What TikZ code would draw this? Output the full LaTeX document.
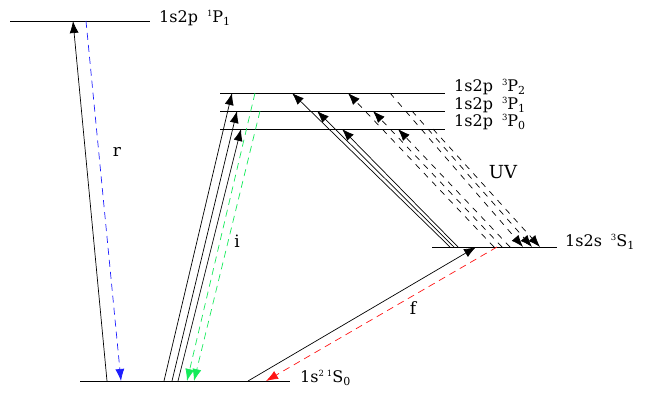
\documentclass[tikz,border=0pt]{standalone}
\usepackage{fontspec}
\setmainfont{DejaVu Serif}
\usetikzlibrary{arrows.meta}
\definecolor{uvgreen}{RGB}{20,235,90}
\definecolor{rblue}{RGB}{30,30,255}
\definecolor{fred}{RGB}{255,20,20}
\newcommand\upi[1]{\raisebox{6pt}{\fontsize{8.5}{8.5}\selectfont #1}}
\newcommand\dni[1]{\raisebox{-3pt}{\fontsize{11}{11}\selectfont #1}}
\begin{document}
\begin{tikzpicture}[x=1pt,y=-1pt,
  lvl/.style={line width=0.8pt},
  tr/.style={line width=0.7pt,-{Latex[length=12pt,width=9pt]}},
  dsh/.style={dash pattern=on 7pt off 5pt},
  uvd/.style={dash pattern=on 6pt off 6pt},
  lbl/.style={anchor=base west,font=\fontsize{16}{16}\selectfont,inner sep=0pt},
  tag/.style={font=\fontsize{17}{17}\selectfont,inner sep=0pt}]
\useasboundingbox (0,0) rectangle (645,393);

% level end points
\coordinate (P1a) at (10,21);   \coordinate (P1b) at (150,21);
\coordinate (P2a) at (220,93);  \coordinate (P2b) at (445,93);
\coordinate (Q1a) at (220,111); \coordinate (Q1b) at (445,111);
\coordinate (P0a) at (220,129); \coordinate (P0b) at (445,129);
\coordinate (S1a) at (432,247); \coordinate (S1b) at (557,247);
\coordinate (S0a) at (80,381);  \coordinate (S0b) at (290,381);

\draw[lvl] (P1a) -- (P1b);
\draw[lvl] (P2a) -- (P2b);
\draw[lvl] (Q1a) -- (Q1b);
\draw[lvl] (P0a) -- (P0b);
\draw[lvl] (S1a) -- (S1b);
\draw[lvl] (S0a) -- (S0b);

% level labels
\node[lbl] (tP1) at (159,23)  {1s2p\hspace{9pt}\upi{1}P\dni{1}};
\node[lbl] (tP2) at (454,92)  {1s2p\hspace{9pt}\upi{3}P\dni{2}};
\node[lbl] (tQ1) at (454,110) {1s2p\hspace{9pt}\upi{3}P\dni{1}};
\node[lbl] (tP0) at (454,127) {1s2p\hspace{9pt}\upi{3}P\dni{0}};
\node[lbl] (tS1) at (565,246) {1s2s\hspace{9pt}\upi{3}S\dni{1}};
\node[lbl] (tS0) at (300,382) {1s\upi{2}\hspace{3pt}\upi{1}S\dni{0}};

% r transitions
\coordinate (ru0) at (107,381); \coordinate (ru1) at (73,21);
\coordinate (rd0) at (86,21);   \coordinate (rd1) at (121,381);
\draw[tr] (ru0) -- (ru1);
\draw[tr,dsh,rblue] (rd0) -- (rd1);
\node[tag] (lr) at (117,152) {r};

% i transitions
\coordinate (ia0) at (164,381); \coordinate (ia1) at (232,93);
\coordinate (ib0) at (172,381); \coordinate (ib1) at (237,111);
\coordinate (ic0) at (178,381); \coordinate (ic1) at (241,129);
\draw[tr] (ia0) -- (ia1);
\draw[tr] (ib0) -- (ib1);
\draw[tr] (ic0) -- (ic1);
\coordinate (ga0) at (255,93);  \coordinate (ga1) at (187,381);
\coordinate (gb0) at (260,111); \coordinate (gb1) at (194,381);
\draw[tr,dsh,uvgreen] (ga0) -- (ga1);
\draw[tr,dsh,uvgreen] (gb0) -- (gb1);
\node[tag] (li) at (237,241) {i};

% 3S1 -> 3P solid
\coordinate (sa0) at (450,247); \coordinate (sa1) at (292,93);
\coordinate (sb0) at (454,247); \coordinate (sb1) at (317,111);
\coordinate (sc0) at (458,247); \coordinate (sc1) at (342,129);
\draw[tr] (sa0) -- (sa1);
\draw[tr] (sb0) -- (sb1);
\draw[tr] (sc0) -- (sc1);

% UV dashed up
\coordinate (ua0) at (494,247); \coordinate (ua1) at (348,93);
\coordinate (ub0) at (502,247); \coordinate (ub1) at (373,111);
\coordinate (uc0) at (510,247); \coordinate (uc1) at (398,129);
\draw[tr,uvd] (ua0) -- (ua1);
\draw[tr,uvd] (ub0) -- (ub1);
\draw[tr,uvd] (uc0) -- (uc1);
% UV dashed down
\coordinate (va0) at (390,93);  \coordinate (va1) at (523,247);
\coordinate (vb0) at (412,111); \coordinate (vb1) at (532,247);
\coordinate (vc0) at (433,129); \coordinate (vc1) at (540,247);
\draw[tr,uvd] (va0) -- (va1);
\draw[tr,uvd] (vb0) -- (vb1);
\draw[tr,uvd] (vc0) -- (vc1);
\node[tag,font=\fontsize{18}{18}\selectfont] (luv) at (503,172) {UV};

% f transitions
\coordinate (fa0) at (248,381); \coordinate (fa1) at (476,247);
\coordinate (fb0) at (497,247); \coordinate (fb1) at (266,381);
\draw[tr] (fa0) -- (fa1);
\draw[tr,dsh,fred] (fb0) -- (fb1);
\node[tag] (lf) at (413,308) {f};
\end{tikzpicture}
\end{document}
